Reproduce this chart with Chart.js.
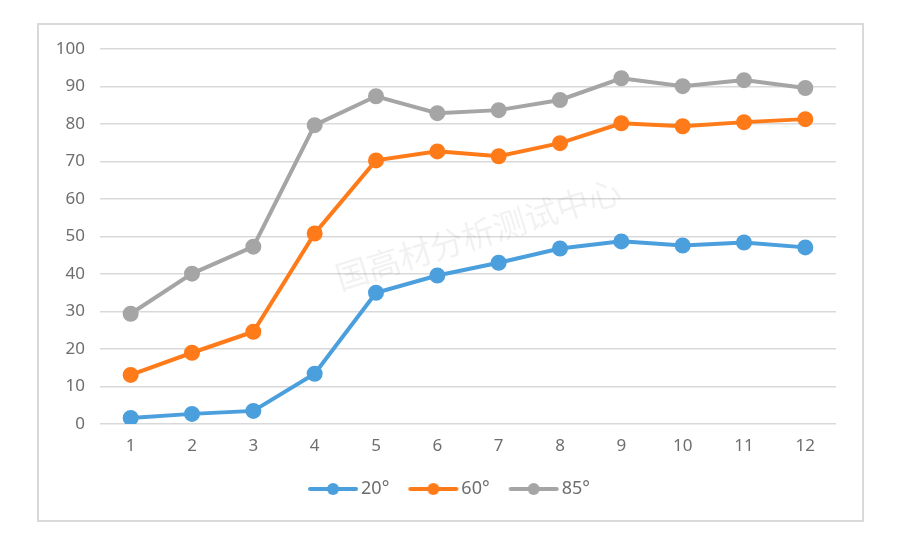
<!DOCTYPE html>
<html lang="zh">
<head>
    <meta charset="UTF-8">
    <title>角度曲线</title>
    <script src="https://cdn.jsdelivr.net/npm/chart.js@4/dist/chart.umd.min.js"></script>
    <style>
        body { margin: 0; background: #fff; }
        #frame { position: absolute; left: 37px; top: 23px; width: 823px; height: 495px; border: 2px solid #d9d9d9; }
        #wrap { position: absolute; left: 0; top: 0; width: 900px; height: 535px; }
    </style>
</head>
<body>
    <div id="frame"></div>
    <div id="wrap"><canvas id="paint"></canvas></div>
    <script>
        var labels = ["1","2","3","4","5","6","7","8","9","10","11","12"]
        var s20 = [1.6, 2.7, 3.5, 13.4, 35.0, 39.6, 43.0, 46.8, 48.7, 47.6, 48.4, 47.1]
        var s60 = [13.1, 19.0, 24.6, 50.8, 70.3, 72.7, 71.4, 74.9, 80.2, 79.4, 80.5, 81.3]
        var s85 = [29.4, 40.1, 47.3, 79.7, 87.4, 82.9, 83.7, 86.4, 92.2, 90.1, 91.7, 89.6]
        var names = ["20°", "60°", "85°"]
        var colors = ["#4a9fdc", "#ff7b1a", "#a5a5a5"]
        var textColor = "#6e6e6e"
        var font = "'Noto Sans', 'Liberation Sans', sans-serif"

        // legend marker: short line with a dot in the middle
        function marker(color) {
            var c = document.createElement("canvas")
            c.width = 52; c.height = 14
            var g = c.getContext("2d")
            g.strokeStyle = color; g.lineWidth = 4; g.lineCap = "round"
            g.beginPath(); g.moveTo(3, 7); g.lineTo(49, 7); g.stroke()
            g.fillStyle = color
            g.beginPath(); g.arc(26, 7, 6, 0, Math.PI * 2); g.fill()
            return c
        }

        var watermark = {
            id: "watermark",
            afterLayout: function (chart) {
                // legend sits a bit right of the plot centre in the original
                chart.legend.left += 14
                chart.legend.right += 14
            },
            beforeDatasetsDraw: function (chart) {
                var ctx = chart.ctx
                ctx.save()
                ctx.translate(478, 234)
                ctx.rotate(-17.5 * Math.PI / 180)
                ctx.font = "33px 'Noto Sans CJK SC'"
                ctx.fillStyle = "rgba(0,0,0,0.055)"
                ctx.textAlign = "center"
                ctx.textBaseline = "middle"
                ctx.fillText("国高材分析测试中心", 0, 0)
                ctx.restore()
            }
        }

        var data = [s20, s60, s85]
        var datasets = []
        for (let i = 0; i < data.length; i++) {
            datasets.push({
                label: names[i],
                data: data[i],
                borderColor: colors[i],
                backgroundColor: colors[i],
                borderWidth: 4,
                pointRadius: 6,
                pointHoverRadius: 6,
                tension: 0,
                fill: false
            })
        }

        var ctx = document.getElementById("paint").getContext("2d")
        var chart = new Chart(ctx, {
            type: "line",
            data: { labels: labels, datasets: datasets },
            plugins: [watermark],
            options: {
                responsive: true,
                maintainAspectRatio: false,
                animation: false,
                layout: { padding: { left: 40, right: 64, top: 49, bottom: 27 } },
                plugins: {
                    tooltip: { enabled: false },
                    legend: {
                        position: "bottom",
                        labels: {
                            usePointStyle: true,
                            pointStyleWidth: 38,
                            padding: 25,
                            color: textColor,
                            font: { family: font, size: 18 },
                            generateLabels: function (c) {
                                return c.data.datasets.map(function (d, i) {
                                    return { text: d.label, pointStyle: marker(colors[i]), fontColor: textColor, datasetIndex: i, lineWidth: 0, strokeStyle: "transparent", fillStyle: "transparent" }
                                })
                            }
                        }
                    }
                },
                scales: {
                    x: {
                        offset: true,
                        grid: { display: false },
                        border: { display: false },
                        ticks: { color: textColor, font: { family: font, size: 17 }, padding: 4, maxRotation: 0 },
                        afterFit: function (s) { s.height = 31 }
                    },
                    y: {
                        min: 0, max: 100,
                        grid: { color: "#d9d9d9", lineWidth: 1.5, drawTicks: false },
                        border: { display: false },
                        ticks: { stepSize: 10, color: textColor, font: { family: font, size: 17 }, padding: 15 },
                        afterFit: function (s) { s.width = 60 }
                    }
                }
            }
        })
    </script>
</body>
</html>
